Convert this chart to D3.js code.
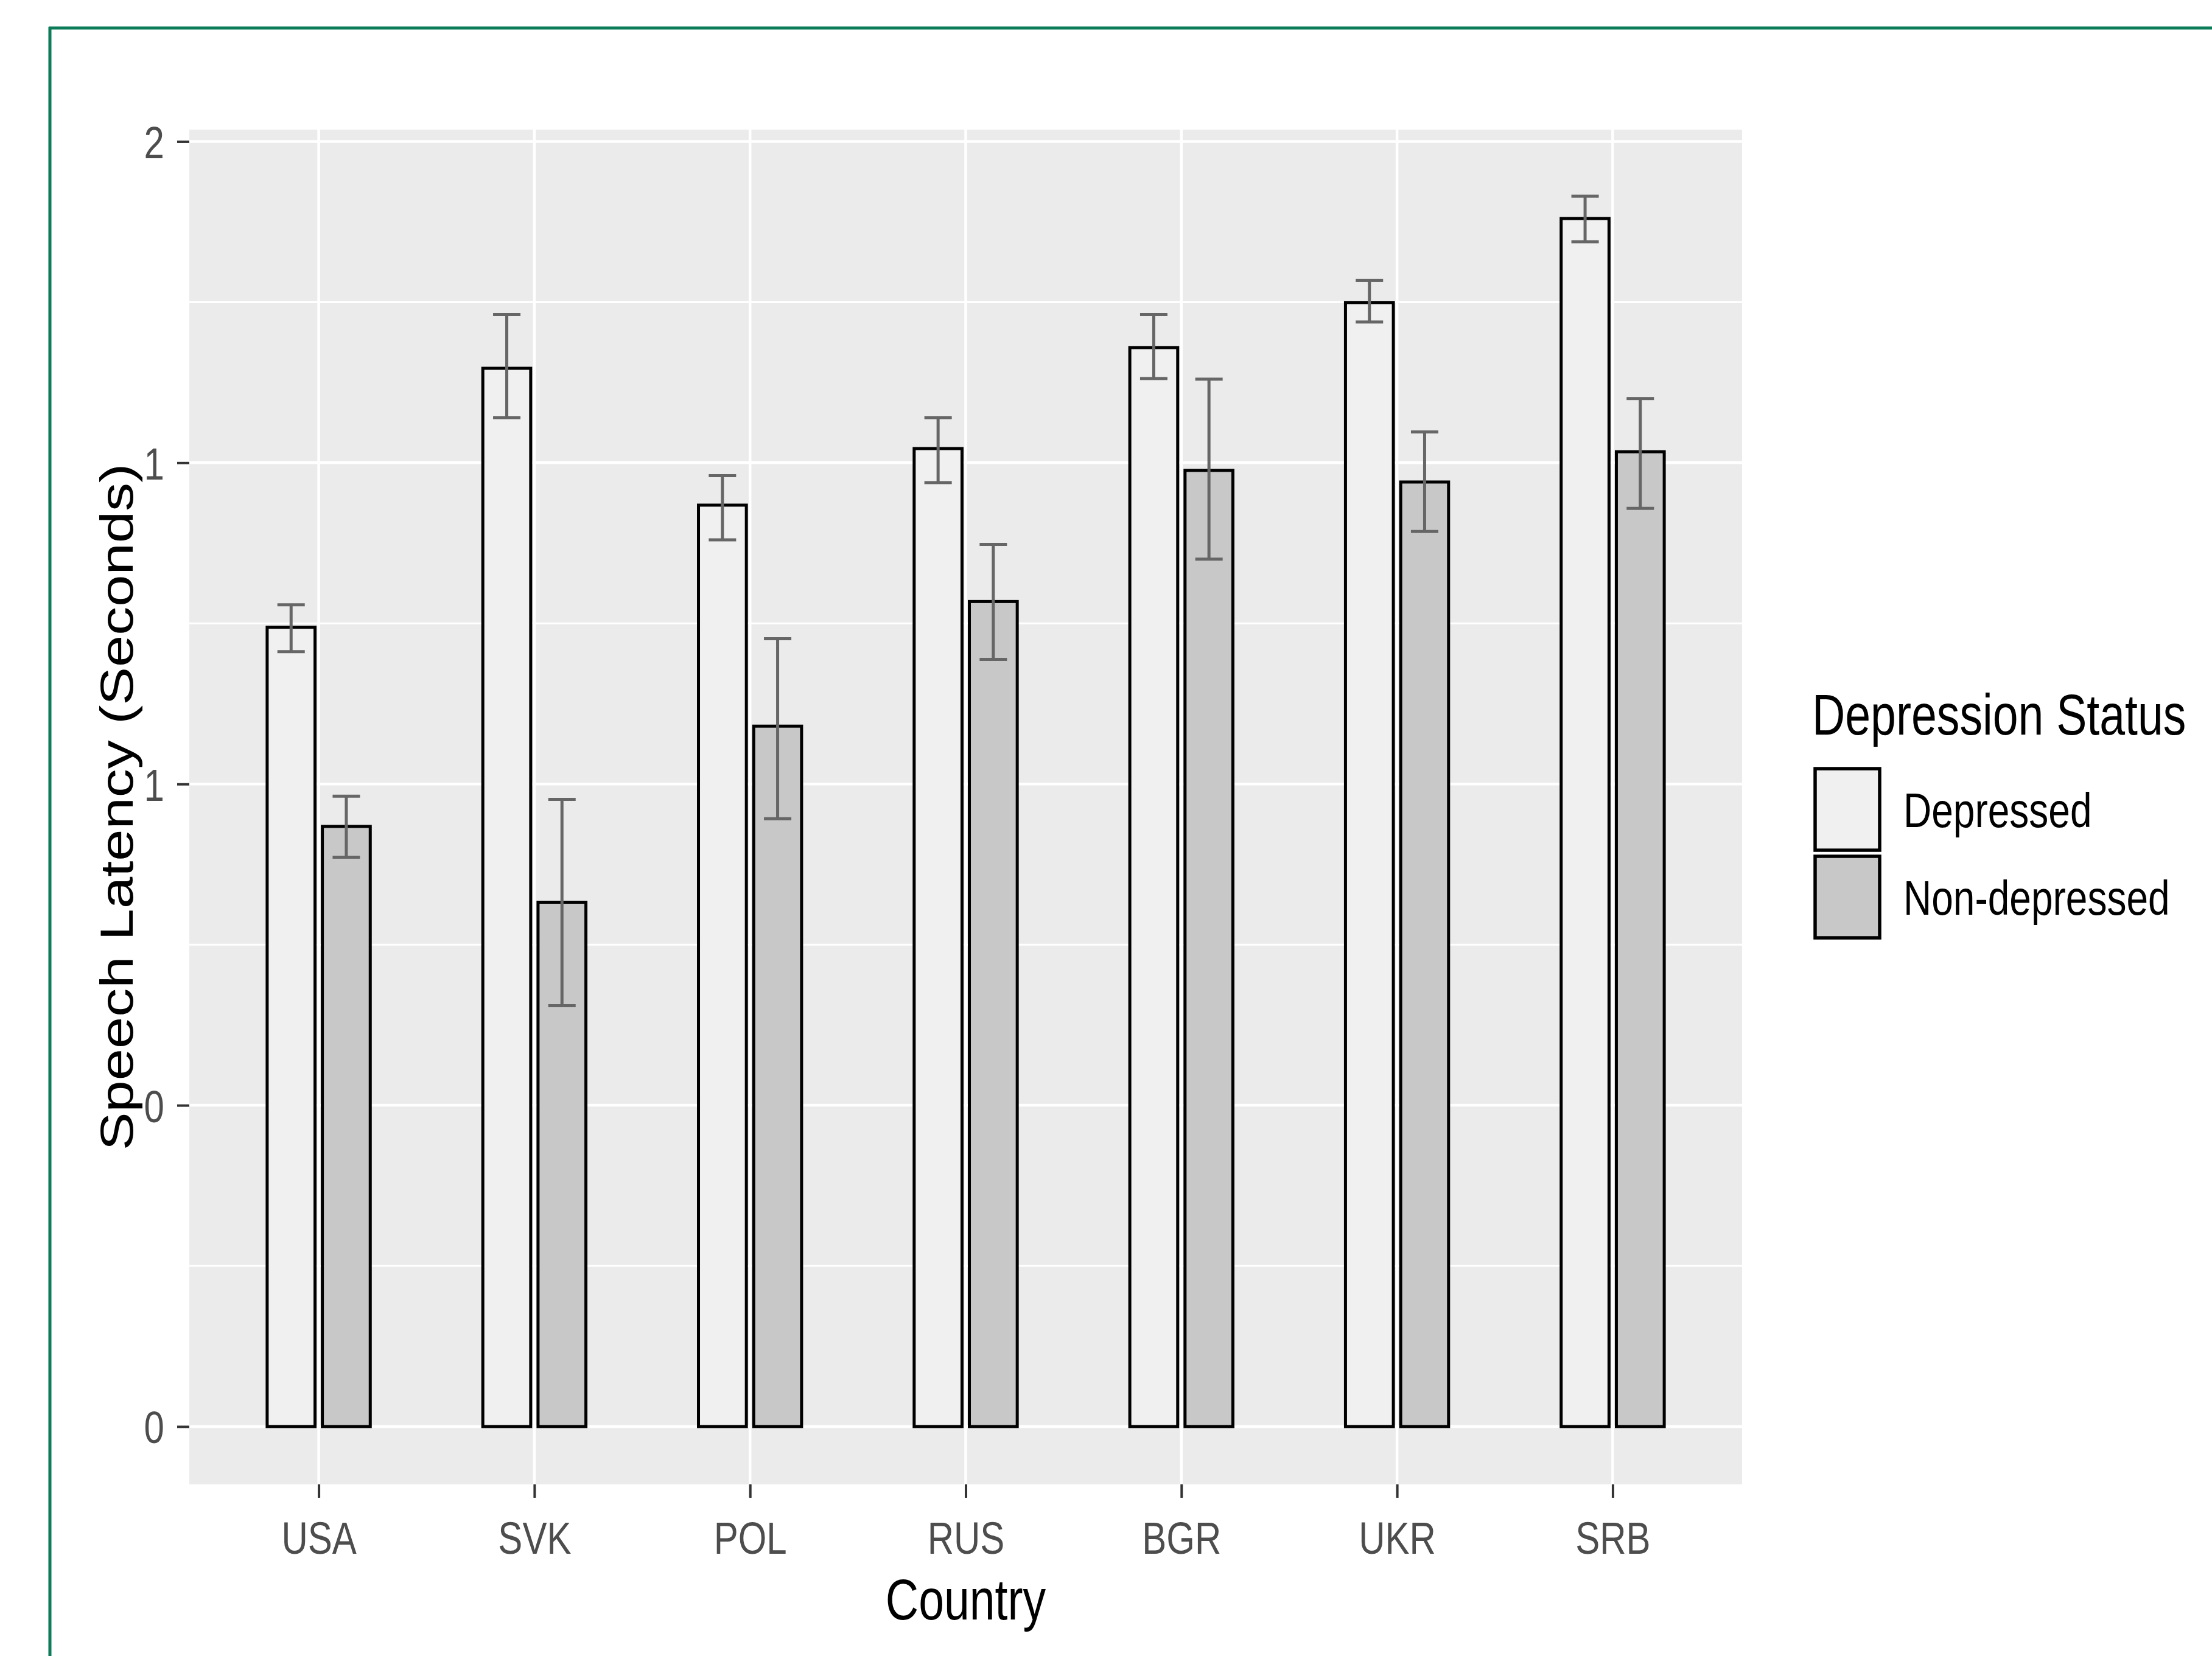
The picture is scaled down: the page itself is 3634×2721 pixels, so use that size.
<!DOCTYPE html>
<html>
<head>
<meta charset="utf-8">
<script src="https://cdnjs.cloudflare.com/ajax/libs/d3/7.8.5/d3.min.js"></script>
<style>
  html, body { margin: 0; padding: 0; background: #ffffff; }
  svg { display: block; }
  text { font-family: "Liberation Sans", Arial, sans-serif; }
</style>
</head>
<body>
<svg id="chart" width="3634" height="2721"></svg>
<script>
// ---------------- data ----------------
const countries = ["USA", "SVK", "POL", "RUS", "BGR", "UKR", "SRB"];
const seriesNames = ["Depressed", "Non-depressed"];
const depressedMean = [1.244, 1.647, 1.434, 1.522, 1.679, 1.749, 1.880];
const depressedLow  = [1.206, 1.570, 1.380, 1.469, 1.631, 1.719, 1.844];
const depressedHigh = [1.279, 1.731, 1.480, 1.570, 1.731, 1.784, 1.915];
const nonDepMean = [0.934, 0.816, 1.090, 1.284, 1.488, 1.470, 1.517];
const nonDepLow  = [0.886, 0.655, 0.946, 1.194, 1.350, 1.393, 1.429];
const nonDepHigh = [0.981, 0.976, 1.226, 1.373, 1.630, 1.548, 1.600];
const yTickValues = [0, 0.5, 1, 1.5, 2];
const yTickLabels = ["0", "0", "1", "1", "2"];
const yMinorValues = [0.25, 0.75, 1.25, 1.75];
const seriesFills = ["#F0F0F0", "#C8C8C8"];

// ---------------- layout ----------------
const panel = { left: 311, right: 2862, top: 213, bottom: 2439 };
const SX = 0.8; // horizontal text compression seen in the reference

const rows = [];
countries.forEach((c, i) => {
  rows.push({ country: c, series: 0, mean: depressedMean[i], low: depressedLow[i], high: depressedHigh[i] });
  rows.push({ country: c, series: 1, mean: nonDepMean[i], low: nonDepLow[i], high: nonDepHigh[i] });
});

const svg = d3.select("#chart");

// green frame
const frameColor = "#0b7b58";
svg.append("line").attr("x1", 80).attr("x2", 3634).attr("y1", 46).attr("y2", 46)
  .attr("stroke", frameColor).attr("stroke-width", 5);
svg.append("line").attr("x1", 82).attr("x2", 82).attr("y1", 44).attr("y2", 2721)
  .attr("stroke", frameColor).attr("stroke-width", 5);

// scales
const yMax = d3.max(rows, d => d.high);
const x = d3.scalePoint().domain(countries).range([panel.left, panel.right]).padding(0.6);
const y = d3.scaleLinear().domain([-0.047 * yMax, 1.054 * yMax]).range([panel.bottom, panel.top]);
const step = x.step();
const dodge = 0.128 * step;
const barW = 0.222 * step;
const capW = 0.127 * step;

// panel background
svg.append("rect")
  .attr("x", panel.left).attr("y", panel.top)
  .attr("width", panel.right - panel.left).attr("height", panel.bottom - panel.top)
  .attr("fill", "#EBEBEB");

// grid
const grid = svg.append("g");
grid.selectAll("line.minor").data(yMinorValues).join("line")
  .attr("class", "minor")
  .attr("x1", panel.left).attr("x2", panel.right)
  .attr("y1", d => y(d)).attr("y2", d => y(d))
  .attr("stroke", "#ffffff").attr("stroke-width", 3);
grid.selectAll("line.major").data(yTickValues).join("line")
  .attr("class", "major")
  .attr("x1", panel.left).attr("x2", panel.right)
  .attr("y1", d => y(d)).attr("y2", d => y(d))
  .attr("stroke", "#ffffff").attr("stroke-width", 4.5);
grid.selectAll("line.vmajor").data(countries).join("line")
  .attr("class", "vmajor")
  .attr("x1", d => x(d)).attr("x2", d => x(d))
  .attr("y1", panel.top).attr("y2", panel.bottom)
  .attr("stroke", "#ffffff").attr("stroke-width", 4.5);

// bars
const cx = d => x(d.country) + (d.series === 0 ? -dodge : dodge);
svg.append("g").selectAll("rect").data(rows).join("rect")
  .attr("x", d => cx(d) - barW / 2)
  .attr("y", d => y(d.mean))
  .attr("width", barW)
  .attr("height", d => y(0) - y(d.mean))
  .attr("fill", d => seriesFills[d.series])
  .attr("stroke", "#000000")
  .attr("stroke-width", 5);

// error bars
const eb = svg.append("g").attr("stroke", "#666666").attr("stroke-width", 5).attr("fill", "none");
eb.selectAll("line.v").data(rows).join("line").attr("class", "v")
  .attr("x1", cx).attr("x2", cx)
  .attr("y1", d => y(d.low)).attr("y2", d => y(d.high));
eb.selectAll("line.t").data(rows).join("line").attr("class", "t")
  .attr("x1", d => cx(d) - capW / 2).attr("x2", d => cx(d) + capW / 2)
  .attr("y1", d => y(d.high)).attr("y2", d => y(d.high));
eb.selectAll("line.b").data(rows).join("line").attr("class", "b")
  .attr("x1", d => cx(d) - capW / 2).attr("x2", d => cx(d) + capW / 2)
  .attr("y1", d => y(d.low)).attr("y2", d => y(d.low));

// y axis
const yAxis = svg.append("g").attr("transform", `translate(${panel.left},0)`)
  .call(d3.axisLeft(y).tickValues(yTickValues).tickSize(20)
    .tickFormat((d, i) => yTickLabels[i]));
yAxis.select(".domain").remove();
yAxis.selectAll(".tick line").attr("stroke", "#333333").attr("stroke-width", 4);
yAxis.selectAll(".tick text")
  .attr("x", -41 / SX).attr("dy", "0.36em")
  .attr("transform", `scale(${SX},1)`)
  .attr("fill", "#4D4D4D").attr("font-size", 75)
  .attr("font-family", "Liberation Sans, Arial, sans-serif");

// x axis
const xAxis = svg.append("g").attr("transform", `translate(0,${panel.bottom})`)
  .call(d3.axisBottom(x).tickSize(22));
xAxis.select(".domain").remove();
xAxis.selectAll(".tick line").attr("stroke", "#333333").attr("stroke-width", 4);
xAxis.selectAll(".tick text")
  .attr("y", 114).attr("dy", 0)
  .attr("transform", `scale(${SX},1)`)
  .attr("fill", "#4D4D4D").attr("font-size", 75)
  .attr("font-family", "Liberation Sans, Arial, sans-serif");

// axis titles
svg.append("text")
  .attr("transform", `translate(${(panel.left + panel.right) / 2},2661) scale(${SX},1)`)
  .attr("text-anchor", "middle").attr("font-size", 94).attr("fill", "#000")
  .text("Country");
svg.append("text")
  .attr("transform", `translate(218,${(panel.top + panel.bottom) / 2}) scale(${SX},1) rotate(-90)`)
  .attr("text-anchor", "middle").attr("font-size", 94).attr("fill", "#000")
  .text("Speech Latency (Seconds)");

// legend
const legend = svg.append("g");
legend.append("text")
  .attr("transform", `translate(2977,1207) scale(${SX},1)`)
  .attr("font-size", 94).attr("fill", "#000")
  .text("Depression Status");
const keyTop = [1263, 1407];
const keyH = 134;
legend.selectAll("rect").data(seriesNames).join("rect")
  .attr("x", 2982).attr("y", (d, i) => keyTop[i])
  .attr("width", 106).attr("height", keyH)
  .attr("fill", (d, i) => seriesFills[i])
  .attr("stroke", "#000").attr("stroke-width", 5.5);
legend.selectAll("text.lab").data(seriesNames).join("text")
  .attr("class", "lab")
  .attr("transform", (d, i) => `translate(3127,${keyTop[i] + keyH / 2}) scale(${SX},1)`)
  .attr("dy", "0.36em")
  .attr("font-size", 80).attr("fill", "#000")
  .text(d => d);
</script>
</body>
</html>
